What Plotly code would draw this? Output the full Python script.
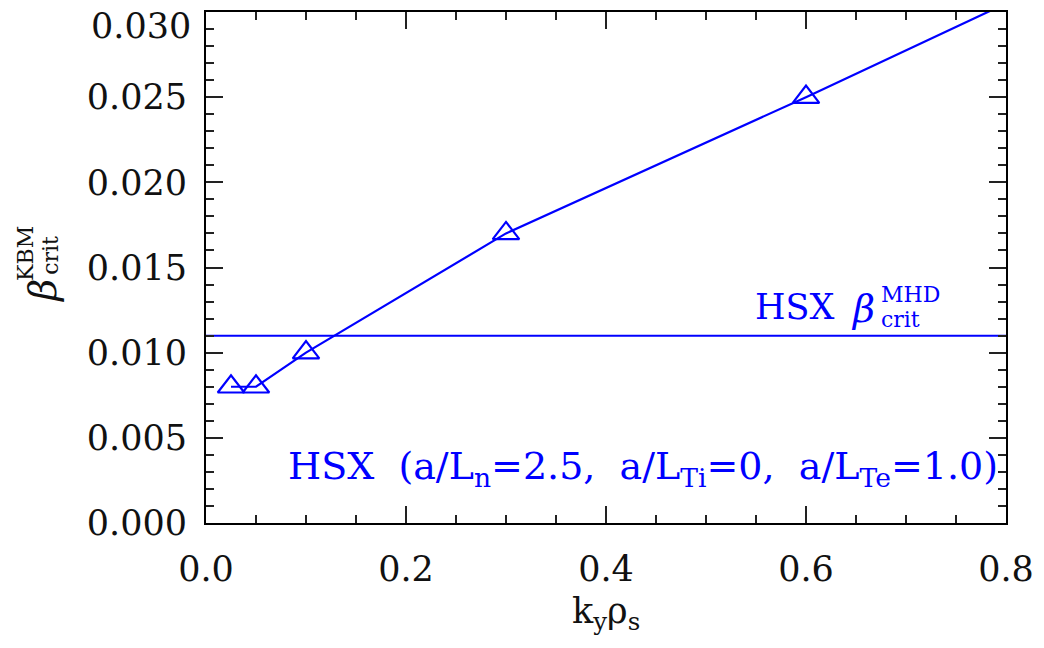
import plotly.graph_objects as go

# data
ky_rho_s = [0.025, 0.05, 0.1, 0.3, 0.6, 1.0]
beta_crit_kbm = [0.008, 0.008, 0.010, 0.017, 0.025, 0.036]
beta_crit_mhd = 0.011
mhd_x = [0.0, 0.8]
y_tickvals = [0.000, 0.005, 0.010, 0.015, 0.020, 0.025]
y_ticktext = ["0.000", "0.005", "0.010", "0.015", "0.020", "0.025"]
x_tickvals = [0.0, 0.2, 0.4, 0.6, 0.8]
x_ticktext = ["0.0", "0.2", "0.4", "0.6", "0.8"]

BLUE = "#0000ff"
SERIF = "DejaVu Serif, Liberation Serif, serif"

W, H = 1044, 648
L, R, T, B = 206, 1010, 10, 523


def px(x):
    return (x - L) / (R - L)


def py(y):
    return (B - y) / (B - T)


fig = go.Figure()
fig.add_trace(go.Scatter(
    x=mhd_x, y=[beta_crit_mhd] * len(mhd_x), mode="lines",
    line=dict(color=BLUE, width=2), showlegend=False, hoverinfo="skip"))
fig.add_trace(go.Scatter(
    x=ky_rho_s, y=beta_crit_kbm, mode="lines+markers",
    line=dict(color=BLUE, width=2.2),
    marker=dict(symbol="triangle-up-open", size=23, color=BLUE,
                line=dict(color=BLUE, width=2.2)),
    showlegend=False))

axis_common = dict(
    showline=True, linecolor="black", linewidth=2, mirror="allticks",
    ticks="inside", ticklen=17, tickwidth=2, tickcolor="#222",
    showgrid=False, zeroline=False,
    tickfont=dict(family=SERIF, size=35, color="#111"),
)

fig.update_xaxes(
    range=[0, 0.8], tickvals=x_tickvals, ticktext=x_ticktext,
    minor=dict(dtick=0.05, ticks="inside", ticklen=8, tickwidth=2, tickcolor="#222", showgrid=False),
    ticklabelstandoff=14,
    **axis_common)
fig.update_yaxes(
    range=[0, 0.030], tickvals=y_tickvals, ticktext=y_ticktext,
    minor=dict(dtick=0.001, ticks="inside", ticklen=8, tickwidth=2, tickcolor="#222", showgrid=False),
    ticklabelstandoff=10,
    **axis_common)

ann = []
# displaced top y tick label
ann.append(dict(x=px(193), y=py(24), xref="paper", yref="paper", text="0.030",
                showarrow=False, xanchor="right", yanchor="middle",
                font=dict(family=SERIF, size=35, color="#111")))
# x axis title
ann.append(dict(x=0.5, y=py(614), xref="paper", yref="paper",
                text="k<sub>y</sub>ρ<sub>s</sub>",
                showarrow=False, xanchor="center", yanchor="middle",
                font=dict(family=SERIF, size=35, color="#111")))
# y axis title (rotated)
ann.append(dict(x=px(42), y=py(290), xref="paper", yref="paper",
                text="<i>β</i>", textangle=-90,
                showarrow=False, xanchor="center", yanchor="middle",
                font=dict(family=SERIF, size=38, color="#111")))
ann.append(dict(x=px(24), y=py(252), xref="paper", yref="paper",
                text="KBM", textangle=-90,
                showarrow=False, xanchor="center", yanchor="middle",
                font=dict(family=SERIF, size=22, color="#111")))
ann.append(dict(x=px(49), y=py(254), xref="paper", yref="paper",
                text="crit", textangle=-90,
                showarrow=False, xanchor="center", yanchor="middle",
                font=dict(family=SERIF, size=22, color="#111")))
# MHD label
ann.append(dict(x=px(756), y=py(306), xref="paper", yref="paper",
                text="HSX", showarrow=False, xanchor="left", yanchor="middle",
                font=dict(family=SERIF, size=35, color=BLUE)))
ann.append(dict(x=px(852), y=py(308), xref="paper", yref="paper",
                text="<i>β</i>", showarrow=False, xanchor="left", yanchor="middle",
                font=dict(family=SERIF, size=38, color=BLUE)))
ann.append(dict(x=px(882), y=py(294), xref="paper", yref="paper",
                text="MHD", showarrow=False, xanchor="left", yanchor="middle",
                font=dict(family=SERIF, size=22, color=BLUE)))
ann.append(dict(x=px(882), y=py(319), xref="paper", yref="paper",
                text="crit", showarrow=False, xanchor="left", yanchor="middle",
                font=dict(family=SERIF, size=22, color=BLUE)))
# case label
ann.append(dict(x=px(286), y=py(468), xref="paper", yref="paper",
                text="HSX  (a/L<sub>n</sub>=2.5,  a/L<sub>Ti</sub>=0,  a/L<sub>Te</sub>=1.0)",
                showarrow=False, xanchor="left", yanchor="middle",
                font=dict(family=SERIF, size=38, color=BLUE)))

fig.update_layout(
    width=W, height=H,
    margin=dict(l=L, r=W - R, t=T, b=H - B, pad=0),
    paper_bgcolor="white", plot_bgcolor="white",
    annotations=ann,
)

fig.write_html("out.html")
